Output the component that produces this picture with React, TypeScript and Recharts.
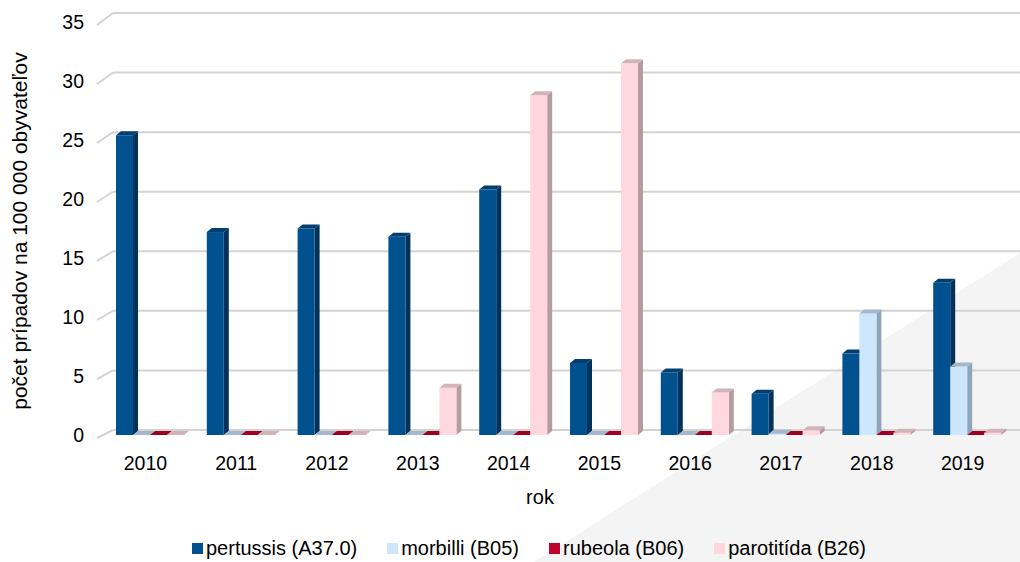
import React from "react";
import { BarChart, Bar, XAxis, YAxis, CartesianGrid, Legend } from "recharts";

const years = ["2010", "2011", "2012", "2013", "2014", "2015", "2016", "2017", "2018", "2019"];
const pertussis = [25.4, 17.2, 17.5, 16.8, 20.8, 6.1, 5.3, 3.5, 6.9, 12.9];
const morbilli = [0, 0, 0, 0, 0, 0, 0, 0.1, 10.3, 5.8];
const rubeola = [0, 0, 0, 0, 0, 0, 0, 0, 0, 0];
const parotitida = [0, 0, 0, 4.0, 28.8, 31.5, 3.6, 0.4, 0.2, 0.2];
const yTicks = [0, 5, 10, 15, 20, 25, 30, 35];

const seriesNames = ["pertussis (A37.0)", "morbilli (B05)", "rubeola (B06)", "parotitída (B26)"];
const keys = ["pertussis", "morbilli", "rubeola", "parotitida"];
const faces = [
  { front: "#02518f", side: "#00325c", top: "#013f72" },
  { front: "#cce6fb", side: "#8fa5b9", top: "#a3b8cc" },
  { front: "#c2032c", side: "#7e0018", top: "#9e0020" },
  { front: "#ffd7df", side: "#b59ca1", top: "#d3b3b9" },
];

const data = years.map((y, i) => ({
  year: y,
  pertussis: pertussis[i],
  morbilli: morbilli[i],
  rubeola: rubeola[i],
  parotitida: parotitida[i],
}));

const FONT = "'Liberation Sans', Arial, sans-serif";
const DX = 5;
const DY = 4;
const SHIFT = 5;

const make3D = (c: { front: string; side: string; top: string }) => (props: any) => {
  const { x, y, width, height } = props;
  if (x == null || y == null) return <g />;
  const x0 = x + SHIFT;
  const w = width;
  const h = Math.max(0, height || 0);
  const yb = y + h;
  return (
    <g>
      <polygon
        points={`${x0 + w},${y} ${x0 + w + DX},${y - DY} ${x0 + w + DX},${yb - DY} ${x0 + w},${yb}`}
        fill={c.side}
      />
      <rect x={x0} y={y} width={w} height={h} fill={c.front} />
      <polygon
        points={`${x0},${y} ${x0 + DX},${y - DY} ${x0 + w + DX},${y - DY} ${x0 + w},${y}`}
        fill={c.top}
      />
    </g>
  );
};

const backY = (front: number) => front - 5 - (435 - front) * 0.00966;

const GridLine = (props: any) => {
  const { y1 } = props;
  const by = backY(y1);
  return (
    <g>
      <line x1={113} x2={1020} y1={by} y2={by} stroke="#d3d3d3" strokeWidth={2} />
      <line x1={97} y1={y1 + 3} x2={113} y2={by} stroke="#d3d3d3" strokeWidth={2} />
    </g>
  );
};

const YTick = (props: any) => {
  const { y, payload } = props;
  return (
    <text x={84} y={y + 7} textAnchor="end" fontSize={19.5} fill="#000" fontFamily={FONT}>
      {payload.value}
    </text>
  );
};

const XTick = (props: any) => {
  const { x, payload } = props;
  return (
    <text x={x} y={470} textAnchor="middle" fontSize={19.5} fill="#000" fontFamily={FONT}>
      {payload.value}
    </text>
  );
};

const LegendContent = () => (
  <div
    style={{
      display: "flex",
      alignItems: "center",
      paddingLeft: 192,
      height: 22,
      fontFamily: FONT,
      fontSize: 20,
      color: "#000",
      whiteSpace: "nowrap",
    }}
  >
    {seriesNames.map((n, i) => (
      <div key={n} style={{ display: "flex", alignItems: "center", marginRight: 30 }}>
        <span
          style={{
            display: "inline-block",
            width: 11,
            height: 11,
            background: faces[i].front,
            marginRight: 3,
          }}
        />
        <span>{n}</span>
      </div>
    ))}
  </div>
);

export default function App() {
  return (
    <div
      style={{
        position: "fixed",
        left: 0,
        top: 0,
        width: 1020,
        height: 562,
        background: "#fff",
        overflow: "hidden",
        fontFamily: FONT,
      }}
    >
      <svg width={1020} height={562} style={{ position: "absolute", left: 0, top: 0 }}>
        <polygon points="534,562 1020,253 1020,562" fill="#f4f4f4" />
      </svg>
      <div style={{ position: "absolute", left: 0, top: 0 }}>
        <BarChart
          width={1020}
          height={562}
          data={data}
          margin={{ top: 22, right: 12, bottom: 65, left: 0 }}
          barSize={17}
          barGap={0}
        >
          <CartesianGrid vertical={false} horizontal={(p: any) => <GridLine {...p} />} />
          <XAxis
            dataKey="year"
            axisLine={false}
            tickLine={false}
            height={40}
            tick={<XTick />}
            interval={0}
            label={(p: any) => (
              <text x={540} y={504} textAnchor="middle" fontSize={20} fill="#000" fontFamily={FONT}>
                rok
              </text>
            )}
          />
          <YAxis
            width={100}
            domain={[0, 35]}
            ticks={yTicks}
            axisLine={false}
            tickLine={false}
            tick={<YTick />}
            interval={0}
            label={(p: any) => (
              <text
                x={27}
                y={231}
                transform="rotate(-90 27 231)"
                textAnchor="middle"
                fontSize={21}
                fill="#000"
                fontFamily={FONT}
              >
                počet prípadov na 100 000 obyvateľov
              </text>
            )}
          />
          <Legend
            verticalAlign="bottom"
            content={<LegendContent />}
            wrapperStyle={{ left: 0, width: 1020, bottom: 3 }}
          />
          {keys.map((k, i) => (
            <Bar
              key={k}
              dataKey={k}
              name={seriesNames[i]}
              fill={faces[i].front}
              shape={make3D(faces[i])}
              isAnimationActive={false}
            />
          ))}
        </BarChart>
      </div>
    </div>
  );
}
